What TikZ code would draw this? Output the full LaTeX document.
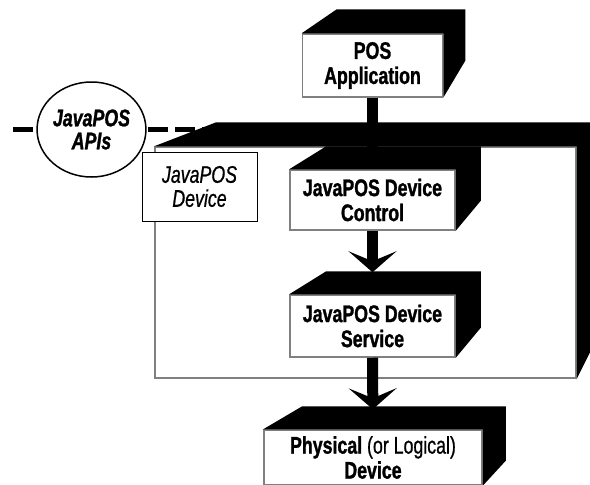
\documentclass[tikz,border=0pt]{standalone}
\usepackage{fontspec}
\setmainfont{Liberation Sans}[FakeStretch=0.74,
  UprightFeatures={FakeBold=0.8}, ItalicFeatures={FakeBold=0.8},
  BoldFeatures={FakeBold=1.2}, BoldItalicFeatures={FakeBold=1.2}]
\usetikzlibrary{arrows.meta,shapes.geometric}
\tikzset{face/.style={draw=gray, line width=1.5pt, fill=white, inner sep=0pt, align=center, font=\fontsize{24}{25}\selectfont\bfseries},
 tag/.style={draw, line width=1pt, fill=white, inner sep=0pt, align=center, font=\fontsize{24}{24}\selectfont\itshape},
 api/.style={ellipse, draw, line width=1.5pt, fill=white, inner sep=0pt, align=center, font=\fontsize{24}{23}\selectfont\bfseries\itshape},
 apiline/.style={line width=5pt, dash pattern=on 20pt off 7pt},
 bus/.style={line width=11pt},
 flow/.style={line width=11pt, -{Stealth[length=21pt,width=48pt,inset=10pt]}}}
\newcommand\solidbox[5]{\fill (#1.north west) -- ++(#2,-#4) -- ([shift={(#3,-#4)}]#1.north east) -- ([shift={(#3,-#5)}]#1.south east) -- (#1.south east) -- (#1.north east) -- cycle;}

\begin{document}
\begin{tikzpicture}[x=1pt,y=-1pt]
   \useasboundingbox (0,0) rectangle (590,485);
   \coordinate (apil) at (13,129);
   \coordinate (apir) at (205,129);
   \draw[apiline] (apil) -- (apir);
   \node[face, minimum width=421pt, minimum height=231pt] (dev) at (365.5,262.5) {};
   \solidbox{dev}{62}{14}{24}{28}
   \node[tag, minimum width=115pt, minimum height=69pt] (devtag) at (199.5,186.5) {JavaPOS\\Device};
   \node[api, minimum width=87pt, minimum height=95pt] (apis) at (91.5,129.5) {JavaPOS\\APIs};
   \node[face, minimum width=140pt, minimum height=63pt] (pos) at (372.5,65.5) {POS\\Application};
   \solidbox{pos}{35}{22}{24}{37}
   \node[face, minimum width=165pt, minimum height=60pt] (ctrl) at (372.5,200) {JavaPOS Device\\Control};
   \solidbox{ctrl}{37}{25}{23}{30}
   \node[face, minimum width=165pt, minimum height=62pt] (svc) at (372.5,326) {JavaPOS Device\\Service};
   \solidbox{svc}{37}{25}{23}{30}
   \node[face, minimum width=218pt, minimum height=55pt] (phys) at (373,457.5) {Physical {\mdseries (or Logical)}\\Device};
   \solidbox{phys}{39}{23}{23}{25}
   \draw[bus] (pos.south) -- (ctrl.north);
   \draw[flow, shorten >=22pt] (ctrl.south) -- (svc.north);
   \draw[flow, shorten >=20pt] (svc.south) -- (phys.north);
\end{tikzpicture}
\end{document}
